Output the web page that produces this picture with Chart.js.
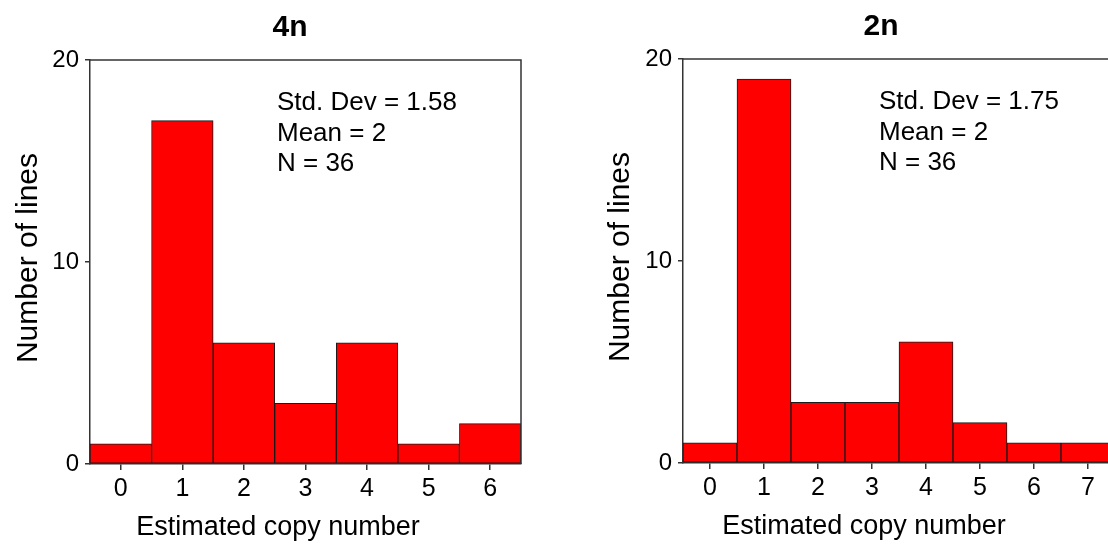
<!DOCTYPE html>
<html>
<head>
<meta charset="utf-8">
<script src="https://cdn.jsdelivr.net/npm/chart.js@4.4.0/dist/chart.umd.min.js"></script>
<style>
    html, body { margin: 0; padding: 0; background: #fff; overflow: hidden; }
    .panel { position: absolute; top: 0; width: 560px; height: 550px; }
</style>
</head>
<body>
<div class="panel" style="left:0px"><canvas id="chart4n"></canvas></div>
<div class="panel" style="left:592px; top:-1px"><canvas id="chart2n"></canvas></div>
<script>
// Data
var copyNumbers4n = ['0', '1', '2', '3', '4', '5', '6'];
var lines4n = [1, 17, 6, 3, 6, 1, 2];
var stats4n = ['Std. Dev = 1.58', 'Mean = 2', 'N = 36'];

var copyNumbers2n = ['0', '1', '2', '3', '4', '5', '6', '7'];
var lines2n = [1, 19, 3, 3, 6, 2, 1, 1];
var stats2n = ['Std. Dev = 1.75', 'Mean = 2', 'N = 36'];

var yTicks = [0, 10, 20];

var FONT = '"Liberation Sans", Arial, sans-serif';
var LINE = '#333';

// draws the box frame, panel title, axis titles and the stats text
var textPlugin = {
    id: 'panelText',
    afterDraw: function (chart, args, opts) {
        var ctx = chart.ctx;
        var area = chart.chartArea;
        ctx.save();

        // top and right of the frame
        ctx.strokeStyle = LINE;
        ctx.lineWidth = 1.5;
        ctx.beginPath();
        ctx.moveTo(area.left, area.top);
        ctx.lineTo(area.right, area.top);
        ctx.lineTo(area.right, area.bottom);
        ctx.stroke();

        ctx.fillStyle = '#000';
        ctx.textAlign = 'center';
        ctx.textBaseline = 'alphabetic';

        ctx.font = 'bold 30px ' + FONT;
        ctx.fillText(opts.title, opts.titleX, 36);

        ctx.font = '27px ' + FONT;
        ctx.fillText('Estimated copy number', opts.xTitleX, 535);

        ctx.save();
        ctx.translate(37, (area.top + area.bottom) / 2 - 4);
        ctx.rotate(-Math.PI / 2);
        ctx.font = '30px ' + FONT;
        ctx.fillText('Number of lines', 0, 0);
        ctx.restore();

        ctx.textAlign = 'left';
        ctx.font = '26px ' + FONT;
        opts.stats.forEach(function (line, i) {
            ctx.fillText(line, opts.statsX, 110 + i * 30.5);
        });

        ctx.restore();
    }
};

function makeChart(canvasId, labels, values, options) {
    return new Chart(document.getElementById(canvasId), {
        type: 'bar',
        data: {
            labels: labels,
            datasets: [{
                data: values,
                backgroundColor: '#ff0000',
                borderColor: '#1a1a1a',
                borderWidth: 1,
                borderSkipped: false,
                barPercentage: 1,
                categoryPercentage: 1
            }]
        },
        options: {
            responsive: false,
            animation: false,
            layout: { padding: { top: 60, right: options.padRight, bottom: 0, left: 0 } },
            plugins: {
                legend: { display: false },
                tooltip: { enabled: false },
                panelText: options
            },
            scales: {
                x: {
                    grid: { display: true, offset: false, drawOnChartArea: false, tickLength: 6, color: LINE, lineWidth: 1.5 },
                    border: { display: true, color: LINE, width: 1.5 },
                    ticks: { color: '#000', font: { family: FONT, size: 25 }, padding: 4, maxRotation: 0 },
                    afterFit: function (scale) { scale.height = 86; }
                },
                y: {
                    min: 0,
                    max: 20,
                    afterBuildTicks: function (scale) {
                        scale.ticks = yTicks.map(function (v) { return { value: v }; });
                    },
                    grid: { display: true, drawOnChartArea: false, tickLength: 5, color: LINE, lineWidth: 1.5 },
                    border: { display: true, color: LINE, width: 1.5 },
                    ticks: { color: '#000', font: { family: FONT, size: 24 }, padding: 6 },
                    afterFit: function (scale) { scale.width = options.axisWidth; }
                }
            }
        },
        plugins: [textPlugin]
    });
}

function sizeCanvas(id) {
    var c = document.getElementById(id);
    c.width = 560;
    c.height = 550;
    c.style.width = '560px';
    c.style.height = '550px';
}

sizeCanvas('chart4n');
sizeCanvas('chart2n');

makeChart('chart4n', copyNumbers4n, lines4n, {
    title: '4n', titleX: 290, xTitleX: 278, statsX: 277, stats: stats4n,
    padRight: 39, axisWidth: 90
});

makeChart('chart2n', copyNumbers2n, lines2n, {
    title: '2n', titleX: 289, xTitleX: 272, statsX: 287, stats: stats2n,
    padRight: 37, axisWidth: 91
});
</script>
</body>
</html>
